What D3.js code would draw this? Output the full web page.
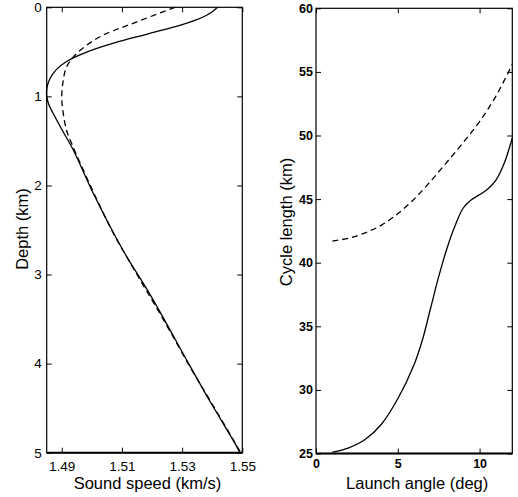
<!DOCTYPE html>
<html>
<head>
<meta charset="utf-8">
<script src="https://cdn.jsdelivr.net/npm/d3@7"></script>
<style>
  body { margin: 0; background: #fff; }
  svg { display: block; font-family: "Liberation Sans", Arial, Helvetica, sans-serif; }
  .axis path.domain { display: none; }
  .axis line { stroke: #000; stroke-width: 1; }
  .axis text { fill: #000; }
  .frame { fill: none; stroke: #000; stroke-width: 1.2; }
  .curve { fill: none; stroke: #000; stroke-width: 1.3; }
  .curve.dashed { stroke-dasharray: 6,4; }
  .axis-title { font-size: 16.5px; fill: #000; }
</style>
</head>
<body>
<svg id="chart"></svg>
<script>
// Left panel: sound speed profiles (depth km, speed km/s)
const depthSolid = [0, 0.05, 0.1, 0.15, 0.2, 0.3, 0.4, 0.5, 0.6, 0.7, 0.8, 0.9, 1.0, 1.1, 1.2, 1.4, 1.6, 2.09, 2.73, 3.25, 4.02, 4.42, 4.92, 5.0];
const speedSolid = [1.5418, 1.5400, 1.5375, 1.5340, 1.5295, 1.5185, 1.5075, 1.4985, 1.4920, 1.4882, 1.4861, 1.4851, 1.4850, 1.4858, 1.4873, 1.4905, 1.4938, 1.5005, 1.5104, 1.5198, 1.5325, 1.5392, 1.5480, 1.5492];

const depthDashed = [0, 0.18, 0.33, 0.52, 0.67, 0.82, 1.01, 1.19, 1.38, 1.53, 2.0, 2.5, 3.0, 3.5, 4.0, 4.5, 5.0];
const speedDashed = [1.5276, 1.5137, 1.5027, 1.4949, 1.4916, 1.4905, 1.4900, 1.4905, 1.4916, 1.4933, 1.4995, 1.5066, 1.5150, 1.5237, 1.5320, 1.5408, 1.5495];

// Right panel: cycle length vs launch angle
const angleSolid = [1, 2, 3, 4, 5, 6, 6.5, 7, 7.5, 8, 8.5, 9, 9.5, 10, 10.5, 11, 11.5, 12];
const cycleSolid = [25.1, 25.45, 26.1, 27.3, 29.3, 32.0, 33.9, 36.4, 38.9, 41.1, 42.9, 44.3, 44.95, 45.35, 45.8, 46.5, 47.8, 49.8];

const angleDashed = [1, 2, 3, 4, 5, 6, 7, 8, 9, 10, 11, 12];
const cycleDashed = [41.7, 41.93, 42.35, 42.95, 43.85, 45.0, 46.4, 47.9, 49.45, 51.1, 53.1, 55.6];

const speedTicks = [1.49, 1.51, 1.53, 1.55];
const depthTicks = [0, 1, 2, 3, 4, 5];
const angleTicks = [0, 5, 10];
const cycleTicks = [25, 30, 35, 40, 45, 50, 55, 60];

const svg = d3.select('#chart')
    .attr('width', 518)
    .attr('height', 497);

function drawPanel(cfg) {
  const x = d3.scaleLinear().domain(cfg.xDomain).range([cfg.left, cfg.right]);
  const y = d3.scaleLinear().domain(cfg.yDomain).range([cfg.top, cfg.bottom]);

  const g = svg.append('g');

  // ticks pointing inward on all four sides
  const bottomAxis = g.append('g')
      .attr('class', 'axis')
      .attr('transform', `translate(0,${cfg.bottom})`)
      .call(d3.axisBottom(x).tickValues(cfg.xTicks).tickSize(-5).tickPadding(cfg.xPad).tickFormat(cfg.xFormat));
  g.append('g')
      .attr('class', 'axis')
      .attr('transform', `translate(0,${cfg.top})`)
      .call(d3.axisTop(x).tickValues(cfg.xTicks).tickSize(-5).tickFormat(''));
  const leftAxis = g.append('g')
      .attr('class', 'axis')
      .attr('transform', `translate(${cfg.left},0)`)
      .call(d3.axisLeft(y).tickValues(cfg.yTicks).tickSize(-5).tickPadding(cfg.yPad).tickFormat(d3.format('d')));
  g.append('g')
      .attr('class', 'axis')
      .attr('transform', `translate(${cfg.right},0)`)
      .call(d3.axisRight(y).tickValues(cfg.yTicks).tickSize(-5).tickFormat(''));

  g.selectAll('.axis').attr('font-family', null).attr('font-size', null);
  bottomAxis.selectAll('text').style('font-size', cfg.tickFont).style('font-weight', cfg.tickWeight);
  leftAxis.selectAll('text').style('font-size', cfg.tickFont).style('font-weight', cfg.tickWeight);

  g.append('rect')
      .attr('class', 'frame')
      .attr('x', cfg.left)
      .attr('y', cfg.top)
      .attr('width', cfg.right - cfg.left)
      .attr('height', cfg.bottom - cfg.top);
  g.append('line')
      .attr('x1', cfg.left).attr('x2', cfg.right)
      .attr('y1', cfg.bottom).attr('y2', cfg.bottom)
      .attr('stroke', '#000')
      .attr('stroke-width', 2);

  const line = d3.line()
      .x(d => x(d[0]))
      .y(d => y(d[1]))
      .curve(d3.curveCatmullRom.alpha(0.5));

  cfg.series.forEach(s => {
    g.append('path')
        .datum(s.data)
        .attr('class', s.dashed ? 'curve dashed' : 'curve')
        .attr('d', line);
  });

  g.append('text')
      .attr('class', 'axis-title')
      .attr('x', (cfg.left + cfg.right) / 2 + 3)
      .attr('y', 489)
      .style('text-anchor', 'middle')
      .text(cfg.xlabel);

  g.append('text')
      .attr('class', 'axis-title')
      .attr('transform', `translate(${cfg.ylabelX},${cfg.ylabelY}) rotate(-90)`)
      .style('text-anchor', 'middle')
      .text(cfg.ylabel);
}

drawPanel({
  left: 46.7, right: 242.3, top: 7.3, bottom: 452.7,
  xDomain: [1.485, 1.55], yDomain: [0, 5],
  xTicks: speedTicks, yTicks: depthTicks,
  xFormat: d3.format('.2f'),
  xPad: 9, yPad: 5,
  tickFont: '13.5px', tickWeight: 'normal',
  series: [
    {data: d3.zip(speedSolid, depthSolid), dashed: false},
    {data: d3.zip(speedDashed, depthDashed), dashed: true}
  ],
  xlabel: 'Sound speed (km/s)',
  ylabel: 'Depth (km)',
  ylabelX: 28, ylabelY: 229
});

drawPanel({
  left: 316, right: 512.3, top: 8.3, bottom: 453.5,
  xDomain: [0, 12], yDomain: [60, 25],
  xTicks: angleTicks, yTicks: cycleTicks,
  xFormat: d3.format('d'),
  xPad: 6, yPad: 3,
  tickFont: '12.5px', tickWeight: 'bold',
  series: [
    {data: d3.zip(angleSolid, cycleSolid), dashed: false},
    {data: d3.zip(angleDashed, cycleDashed), dashed: true}
  ],
  xlabel: 'Launch angle (deg)',
  ylabel: 'Cycle length (km)',
  ylabelX: 292, ylabelY: 222
});
</script>
</body>
</html>
